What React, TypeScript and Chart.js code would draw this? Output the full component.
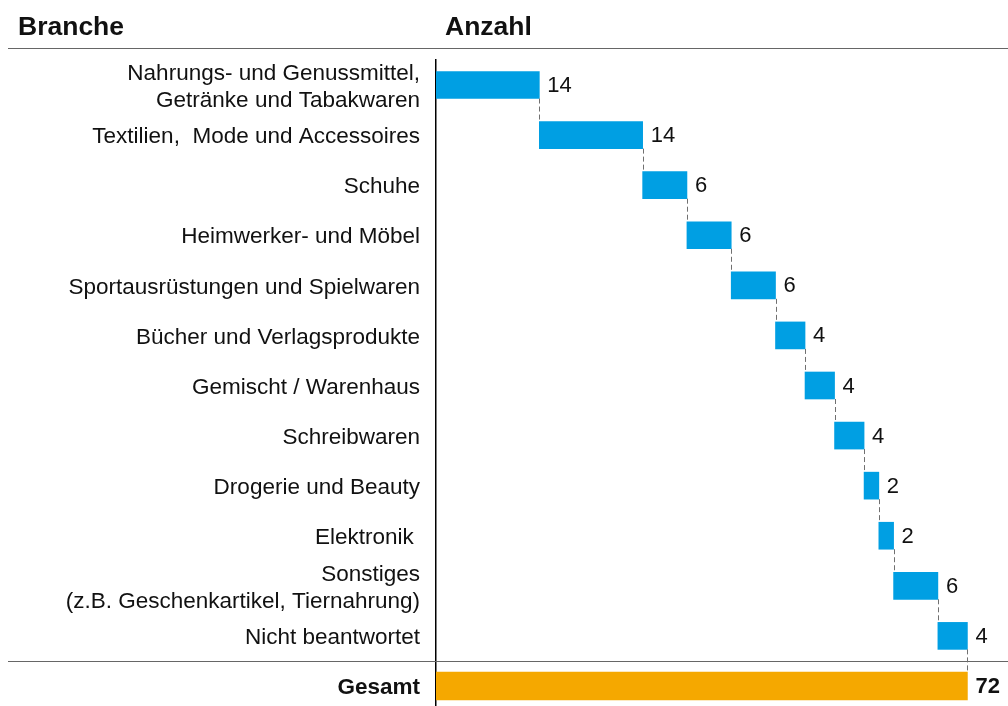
import React, { useEffect, useRef } from "react";
import { Chart, registerables } from "chart.js";

Chart.register(...registerables);

const categories: (string | string[])[] = [
  ["Nahrungs- und Genussmittel,", "Getränke und Tabakwaren"],
  "Textilien,  Mode und Accessoires",
  "Schuhe",
  "Heimwerker- und Möbel",
  "Sportausrüstungen und Spielwaren",
  "Bücher und Verlagsprodukte",
  "Gemischt / Warenhaus",
  "Schreibwaren",
  "Drogerie und Beauty",
  "Elektronik ",
  ["Sonstiges", "(z.B. Geschenkartikel, Tiernahrung)"],
  "Nicht beantwortet",
  "Gesamt",
];
const values = [14, 14, 6, 6, 6, 4, 4, 4, 2, 2, 6, 4];
const totalValue = 72;
const headerLeft = "Branche";
const headerRight = "Anzahl";

const FONT = "'Liberation Sans', Arial, sans-serif";
const BLUE = "#009fe3";
const ORANGE = "#f5a800";

export default function App() {
  const ref = useRef<HTMLCanvasElement | null>(null);

  useEffect(() => {
    if (!ref.current) return;
    const ranges: ([number, number] | null)[] = [];
    let acc = 0;
    values.forEach((v) => {
      ranges.push([acc, acc + v]);
      acc += v;
    });
    ranges.push(null);
    const totals: ([number, number] | null)[] = values.map(() => null);
    totals.push([0, totalValue]);

    const decor = {
      id: "decor",
      afterDraw(chart: any) {
        const ctx = chart.ctx;
        const x = chart.scales.x;
        const m0 = chart.getDatasetMeta(0);
        const m1 = chart.getDatasetMeta(1);
        ctx.save();
        ctx.fillStyle = "#111";
        ctx.font = `bold 26.5px ${FONT}`;
        ctx.textBaseline = "alphabetic";
        ctx.textAlign = "left";
        ctx.fillText(headerLeft, 18, 35);
        ctx.fillText(headerRight, 445, 35);
        ctx.strokeStyle = "#666";
        ctx.lineWidth = 1;
        ctx.beginPath();
        ctx.moveTo(8, 48.5);
        ctx.lineTo(1008, 48.5);
        ctx.stroke();
        ctx.beginPath();
        ctx.moveTo(8, 661.5);
        ctx.lineTo(1008, 661.5);
        ctx.stroke();
        ctx.strokeStyle = "#707070";
        ctx.setLineDash([5, 3]);
        let cum = 0;
        values.forEach((v, i) => {
          cum += v;
          const bar: any = m0.data[i];
          const next: any = i < values.length - 1 ? m0.data[i + 1] : m1.data[values.length];
          const px = Math.round(x.getPixelForValue(cum)) + 0.5;
          ctx.beginPath();
          ctx.moveTo(px, bar.y + bar.height / 2);
          ctx.lineTo(px, next.y - next.height / 2);
          ctx.stroke();
        });
        ctx.setLineDash([]);
        ctx.fillStyle = "#111";
        ctx.textBaseline = "middle";
        ctx.font = `22px ${FONT}`;
        values.forEach((v, i) => {
          const bar: any = m0.data[i];
          ctx.fillText(String(v), bar.x + 8, bar.y + 1);
        });
        const tb: any = m1.data[values.length];
        ctx.font = `bold 22px ${FONT}`;
        ctx.fillText(String(totalValue), tb.x + 8, tb.y + 1);
        ctx.restore();
      },
    };

    const chart = new Chart(ref.current, {
      type: "bar",
      data: {
        labels: categories,
        datasets: [
          { data: ranges as any, backgroundColor: BLUE, barThickness: 27, borderWidth: 0 },
          { data: totals as any, backgroundColor: ORANGE, barThickness: 28, borderWidth: 0 },
        ],
      },
      options: {
        indexAxis: "y",
        animation: false,
        responsive: true,
        maintainAspectRatio: false,
        layout: { padding: { top: 60, bottom: 5, left: 0, right: 0 } },
        plugins: { legend: { display: false }, tooltip: { enabled: false }, title: { display: false } },
        datasets: { bar: { grouped: false } } as any,
        scales: {
          x: { display: false, min: 0, max: 77.5 },
          y: {
            position: "left",
            grid: { display: false, drawTicks: false },
            border: { display: true, color: "#000", width: 1.5 },
            afterFit: (s: any) => {
              s.width = 436;
              s.paddingTop = 0;
              s.paddingBottom = 0;
            },
            ticks: {
              padding: 16,
              labelOffset: 2,
              color: "#111",
              autoSkip: false,
              font: (c: any) =>
                c.index === categories.length - 1
                  ? { family: FONT, size: 22.5, weight: "bold", lineHeight: 1.2 }
                  : { family: FONT, size: 22.5, lineHeight: 1.2 },
            },
          },
        },
      },
      plugins: [decor],
    });
    return () => chart.destroy();
  }, []);

  return (
    <div style={{ position: "fixed", left: 0, top: 0, width: 1008, height: 716, background: "#fff" }}>
      <canvas ref={ref} style={{ display: "block" }} />
    </div>
  );
}
